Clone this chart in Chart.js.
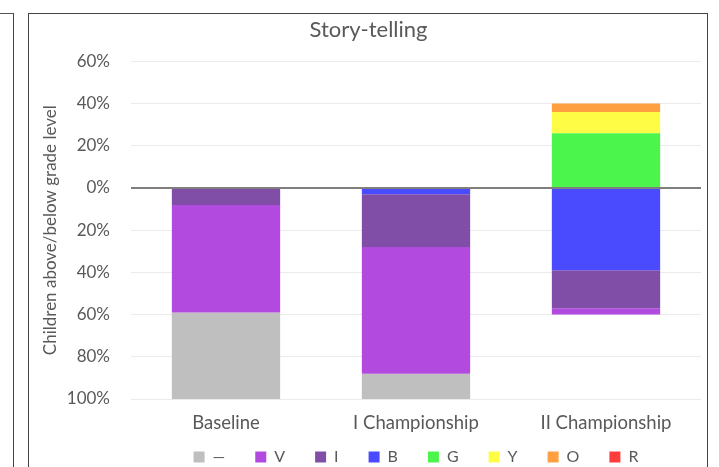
<!DOCTYPE html>
<html>
<head>
<meta charset="utf-8">
<script src="https://cdn.jsdelivr.net/npm/chart.js@4/dist/chart.umd.min.js"></script>
<style>
  html, body { margin: 0; padding: 0; background: #fff; width: 719px; height: 467px; overflow: hidden; }
  .side { position: absolute; left: -2px; top: 13px; width: 15px; height: 470px; border-top: 1px solid #555; border-right: 1.5px solid #444; }
  .box { position: absolute; left: 28px; top: 13px; width: 678px; height: 470px; border: 1.5px solid #444; border-bottom: none; }
  .wrap { position: absolute; left: 30px; top: 14px; width: 676px; height: 461px; }
</style>
</head>
<body>
<div class="side"></div>
<div class="box"></div>
<div class="wrap"><canvas id="chart"></canvas></div>
<script>
const categories = ['Baseline', 'I Championship', 'II Championship'];
const yTicks = [-100, -80, -60, -40, -20, 0, 20, 40, 60];

// share of children, % (negative = below grade level)
const dashValues = [-41, -12, 0];
const vValues = [-51, -60, -3];
const iValues = [-8, -25, -18];
const bValues = [0, -3, -39];
const gValues = [0, 0, 26];
const yValues = [0, 0, 10];
const oValues = [0, 0, 4];
const rValues = [0, 0, 0];

const legendOrder = ['—', 'V', 'I', 'B', 'G', 'Y', 'O', 'R'];

const font = 'Lato, "Open Sans", sans-serif';
const textColor = '#595959';

const ds = (label, data, color) => ({
  label,
  data,
  backgroundColor: color,
  borderWidth: 0,
  stack: 'one',
});

new Chart(document.getElementById('chart'), {
  type: 'bar',
  data: {
    labels: categories,
    datasets: [
      ds('B', bValues, 'rgb(74, 74, 255)'),
      ds('I', iValues, 'rgb(128, 78, 166)'),
      ds('V', vValues, 'rgb(178, 74, 224)'),
      ds('—', dashValues, 'rgb(191, 191, 191)'),
      ds('G', gValues, 'rgb(76, 245, 76)'),
      ds('Y', yValues, 'rgb(255, 252, 70)'),
      ds('O', oValues, 'rgb(255, 160, 64)'),
      ds('R', rValues, 'rgb(255, 60, 60)'),
    ],
  },
  options: {
    responsive: true,
    maintainAspectRatio: false,
    animation: false,
    layout: { padding: { left: 6, right: 5, top: 0, bottom: 0 } },
    datasets: { bar: { categoryPercentage: 1, barPercentage: 0.57 } },
    plugins: {
      title: {
        display: true,
        text: 'Story-telling',
        color: textColor,
        font: { family: font, size: 22, weight: 'normal' },
        padding: { top: 3, bottom: 18 },
      },
      legend: {
        position: 'bottom',
        fullSize: false,
        labels: {
          color: textColor,
          font: { family: font, size: 16 },
          boxWidth: 11,
          boxHeight: 11,
          padding: 30,
          sort: (a, b) => legendOrder.indexOf(a.text) - legendOrder.indexOf(b.text),
        },
      },
      tooltip: { enabled: false },
    },
    scales: {
      x: {
        stacked: true,
        grid: { display: false, drawTicks: false },
        border: { display: false },
        afterFit: (scale) => {
          scale.height = 20;
          // let the labels spill into the legend's top padding
          scale._computeLabelArea = () => undefined;
        },
        ticks: { color: textColor, font: { family: font, size: 18.5 }, padding: 13 },
      },
      y: {
        stacked: true,
        min: -100,
        max: 60,
        afterBuildTicks: (scale) => { scale.ticks = yTicks.map((v) => ({ value: v })); },
        afterFit: (scale) => { scale.width = 95; },
        border: { display: false },
        grid: {
          drawTicks: false,
          color: (c) => (c.tick && c.tick.value === 0 ? '#7f7f7f' : '#ebebeb'),
          lineWidth: (c) => (c.tick && c.tick.value === 0 ? 2 : 1),
        },
        ticks: {
          color: textColor,
          font: { family: font, size: 17 },
          padding: 21,
          callback: (v) => Math.abs(v) + '%',
        },
        title: {
          display: true,
          text: 'Children above/below grade level',
          color: textColor,
          font: { family: font, size: 17 },
          padding: { top: 4, bottom: 0 },
        },
      },
    },
  },
});
</script>
</body>
</html>
